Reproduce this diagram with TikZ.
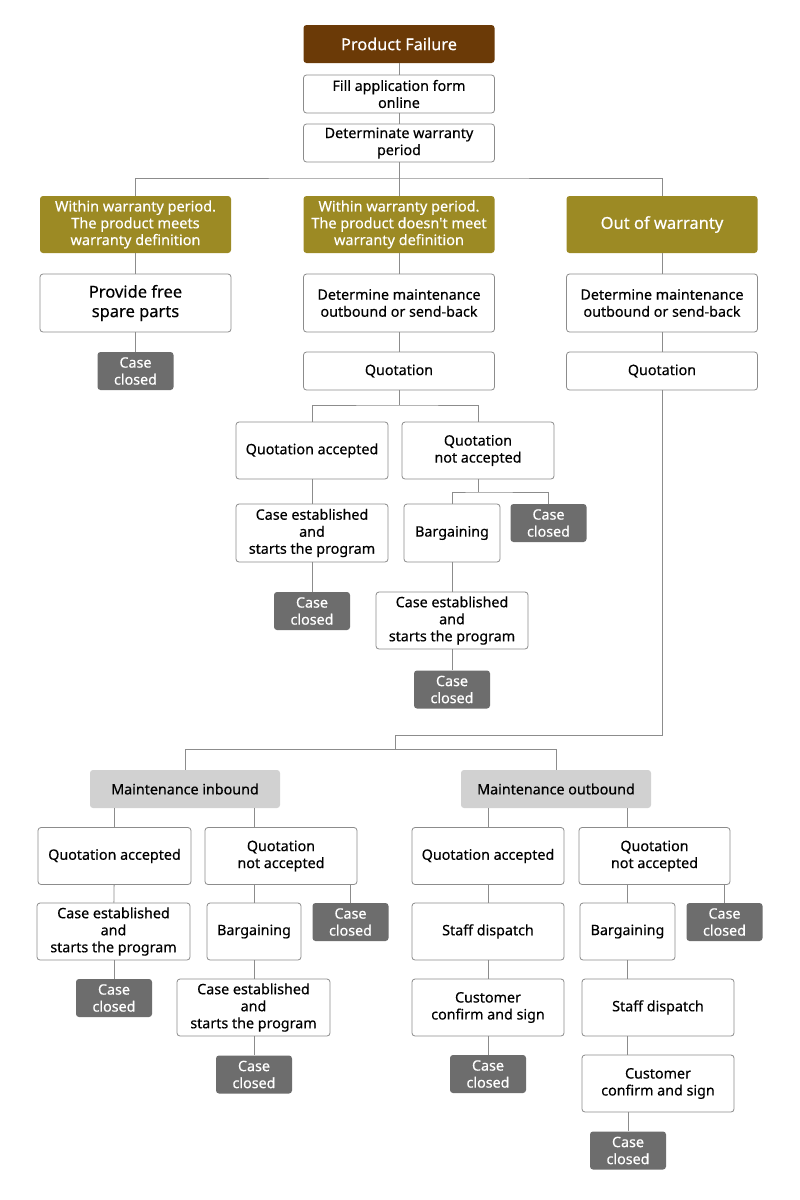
\documentclass[tikz,border=0pt]{standalone}
\usepackage{fontspec}
\setmainfont{Noto Sans}
\newfontfamily\mfont[FakeBold=0.35]{Noto Sans}
\definecolor{brownc}{HTML}{6B3A07}
\definecolor{olivec}{HTML}{9C8A24}
\definecolor{darkg}{HTML}{6D6D6D}
\definecolor{lightg}{HTML}{D1D1D1}
\definecolor{lineg}{HTML}{8C8C8C}
\begin{document}
\begin{tikzpicture}[x={(1pt,0)},y={(0,-1pt)},
  base/.style={rounded corners=3pt, align=center, inner sep=0pt, font=\mfont\fontsize{14.3}{17}\selectfont},
  wbox/.style={base, draw=lineg, line width=0.8pt, fill=white, text=black},
  obox/.style={base, fill=olivec, text=white, font=\mfont\fontsize{14.5}{16.8}\selectfont},
  cbox/.style={base, fill=darkg, text=white, minimum width=76pt, minimum height=38pt, font=\mfont\fontsize{14.3}{17}\selectfont},
  gbox/.style={base, fill=lightg, text=black, minimum width=190pt, minimum height=38pt},
  conn/.style={draw=lineg, line width=0.8pt},
  W/.style={minimum width=#1pt},
  H/.style={minimum height=#1pt}]
\fill[white] (0,0) rectangle (800,1200);
\useasboundingbox (0,0) rectangle (800,1200);
% top
\node[base, fill=brownc, text=white, W=191, H=38, font=\mfont\fontsize{16.3}{20}\selectfont] (pf) at (399,44) {Product Failure};
\node[wbox, W=191, H=38] (fill) at (399,94) {Fill application form\\online};
\node[wbox, W=191, H=38] (det) at (399,143) {Determinate warranty\\period};
\node[obox, W=191, H=57] (w1) at (135.5,224.5) {Within warranty period.\\The product meets\\warranty definition};
\node[obox, W=191, H=57] (w2) at (399,224.5) {Within warranty period.\\The product doesn't meet\\warranty definition};
\node[obox, W=191, H=57, font=\mfont\fontsize{16.5}{20}\selectfont] (w3) at (662,224.5) {Out of warranty};
\node[wbox, W=191, H=58, font=\mfont\fontsize{16.5}{19.5}\selectfont] (p1) at (135.5,303) {Provide free\\spare parts};
\node[wbox, W=191, H=58] (d2) at (399,303) {Determine maintenance\\outbound or send-back};
\node[wbox, W=191, H=58] (d3) at (662,303) {Determine maintenance\\outbound or send-back};
\node[cbox] (cc1) at (135.5,371) {Case\\closed};
\node[wbox, W=191, H=38] (q2) at (399,371) {Quotation};
\node[wbox, W=191, H=38] (q3) at (662,371) {Quotation};
% middle branch
\node[wbox, W=152, H=57] (qa2) at (312,450.5) {Quotation accepted};
\node[wbox, W=152, H=57] (qn2) at (478,450.5) {Quotation\\not accepted};
\node[wbox, W=152, H=58] (ce2) at (312,533) {Case established\\and\\starts the program};
\node[cbox] (cc2) at (312,611) {Case\\closed};
\node[wbox, W=96, H=58] (bg2) at (452,533) {Bargaining};
\node[cbox] (cc3) at (548.5,523) {Case\\closed};
\node[wbox, W=152, H=57] (ce3) at (452,620.5) {Case established\\and\\starts the program};
\node[cbox] (cc4) at (452,689.5) {Case\\closed};
% bottom left
\node[gbox] (mi) at (185,789) {Maintenance inbound};
\node[gbox] (mo) at (556,789) {Maintenance outbound};
\node[wbox, W=153, H=57] (qa4) at (114.5,856) {Quotation accepted};
\node[wbox, W=152, H=57] (qn4) at (281,856) {Quotation\\not accepted};
\node[wbox, W=153, H=57] (ce4) at (113.5,931.5) {Case established\\and\\starts the program};
\node[cbox] (cc5) at (114,998) {Case\\closed};
\node[wbox, W=94, H=57] (bg4) at (254,931.5) {Bargaining};
\node[cbox] (cc6) at (350.5,922) {Case\\closed};
\node[wbox, W=153, H=57] (ce5) at (253.5,1007.5) {Case established\\and\\starts the program};
\node[cbox] (cc7) at (254,1074.5) {Case\\closed};
% bottom right
\node[wbox, W=152, H=57] (qa5) at (488,856) {Quotation accepted};
\node[wbox, W=151, H=57] (qn5) at (654.5,856) {Quotation\\not accepted};
\node[wbox, W=152, H=57] (sd5) at (488,931.5) {Staff dispatch};
\node[wbox, W=152, H=57] (cu5) at (488,1007.5) {Customer\\confirm and sign};
\node[cbox] (cc8) at (488,1074) {Case\\closed};
\node[wbox, W=95, H=57] (bg5) at (627.5,931.5) {Bargaining};
\node[cbox] (cc9) at (724.5,922) {Case\\closed};
\node[wbox, W=152, H=57] (sd6) at (658,1007.5) {Staff dispatch};
\node[wbox, W=152, H=57] (cu6) at (658,1083.5) {Customer\\confirm and sign};
\node[cbox] (cc10) at (628,1150.5) {Case\\closed};
% junctions
\coordinate (j1) at (399,178);
\coordinate (j2) at (399,405);
\coordinate (j3) at (478,492);
\coordinate (j4) at (662,735);
\coordinate (j5) at (395,749);
% connectors
\path[conn] (pf) -- (fill);
\path[conn] (fill) -- (det);
\path[conn] (det.south) -- (w2.north);
\path[conn] (w1.north) |- (j1) -| (w3.north);
\path[conn] (w1) -- (p1);
\path[conn] (p1) -- (cc1);
\path[conn] (w2) -- (d2);
\path[conn] (d2) -- (q2);
\path[conn] (w3) -- (d3);
\path[conn] (d3) -- (q3);
\path[conn] (q2.south) -- (j2);
\path[conn] (qa2.north) |- (j2) -| (qn2.north);
\path[conn] (qa2) -- (ce2);
\path[conn] (ce2) -- (cc2);
\path[conn] (qn2.south) -- (j3);
\path[conn] (bg2.north) |- (j3) -| (cc3.north);
\path[conn] (bg2) -- (ce3);
\path[conn] (ce3) -- (cc4);
\path[conn] (q3.south) -- (j4) -| (j5);
\path[conn] (mi.north) |- (j5) -| (mo.north);
\path[conn] (mi.south -| qa4.north) -- (qa4.north);
\path[conn] (mi.south -| bg4.north) -- (qn4.north -| bg4.north);
\path[conn] (qa4) -- (ce4);
\path[conn] (ce4.south -| cc5.north) -- (cc5.north);
\path[conn] (qn4.south -| bg4.north) -- (bg4.north);
\path[conn] (qn4.south -| cc6.north) -- (cc6.north);
\path[conn] (bg4.south) -- (ce5.north -| bg4.south);
\path[conn] (ce5.south -| cc7.north) -- (cc7.north);
\path[conn] (mo.south -| qa5.north) -- (qa5.north);
\path[conn] (mo.south -| bg5.north) -- (qn5.north -| bg5.north);
\path[conn] (qa5) -- (sd5);
\path[conn] (sd5) -- (cu5);
\path[conn] (cu5) -- (cc8);
\path[conn] (qn5.south -| bg5.north) -- (bg5.north);
\path[conn] (qn5.south -| cc9.north) -- (cc9.north);
\path[conn] (bg5.south) -- (sd6.north -| bg5.south);
\path[conn] (sd6.south -| bg5.south) -- (cu6.north -| bg5.south);
\path[conn] (cu6.south -| cc10.north) -- (cc10.north);
\end{tikzpicture}
\end{document}
